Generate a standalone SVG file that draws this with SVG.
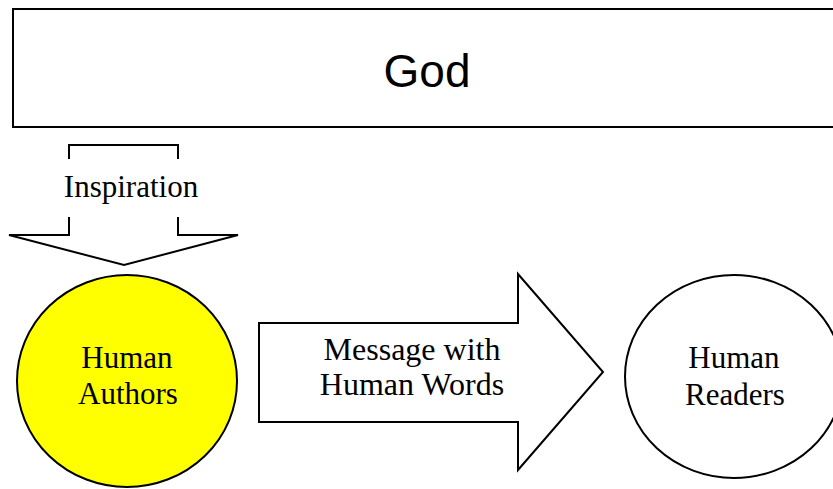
<svg xmlns="http://www.w3.org/2000/svg" width="833" height="489" viewBox="0 0 833 489">
<style>
.s{stroke:#000;stroke-width:2;fill:#fff}
.l{stroke:#000;stroke-width:2;fill:none}
.t{font-family:"Liberation Serif","Times New Roman",serif;font-size:31px;fill:#000;text-anchor:middle}
.m{font-size:32px}
.g{font-family:"Liberation Sans",Arial,sans-serif;font-size:46px;fill:#000;text-anchor:middle}
</style>
<rect width="833" height="489" fill="#fff"/>
<g id="god">
<rect class="s" x="13" y="9" width="840" height="118"/>
<text class="g" x="427" y="87">God</text>
</g>
<g id="connectors">
<g id="inspiration">
<path class="l" d="M69,159 V145 H178 V159"/>
<path class="l" d="M69,217 V235 H9 L124,265 L238,235 H178 V217"/>
<text class="t" x="131" y="197" font-size="31.5">Inspiration</text>
</g>
<g id="message">
<path class="s" d="M259,323 H518 V274 L603,372 L518,470 V422 H259 Z"/>
<text class="t m" x="412" y="360">Message with</text>
<text class="t m" x="412" y="395">Human Words</text>
</g>
</g>
<g id="authors">
<ellipse cx="127" cy="381" rx="110" ry="106" fill="#ffff00" stroke="#000" stroke-width="2"/>
<text class="t" x="127" y="368">Human</text>
<text class="t" x="128" y="404">Authors</text>
</g>
<g id="readers">
<ellipse class="s" cx="734" cy="376.5" rx="109" ry="101.5"/>
<text class="t" x="734" y="368">Human</text>
<text class="t" x="735" y="405">Readers</text>
</g>
</svg>
